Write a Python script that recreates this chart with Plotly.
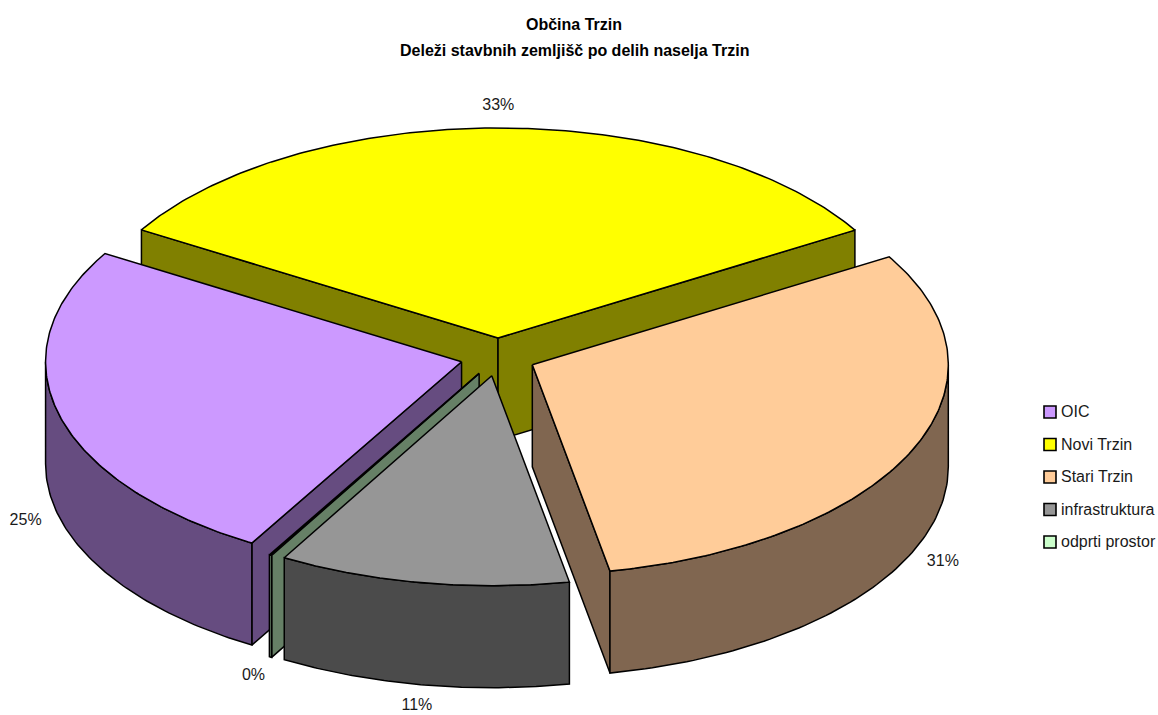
import numpy as np
import plotly.graph_objects as go

# --- data
categories = ["OIC", "Novi Trzin", "Stari Trzin", "infrastruktura", "odprti prostor"]
shares = [25.2, 32.8, 30.6, 11.3, 0.1]
top_colors = ["#CC99FF", "#FFFF00", "#FFCC99", "#969696", "#CCFFCC"]
side_colors = ["#664C80", "#808000", "#806650", "#4B4B4B", "#668066"]
title_lines = ["Občina Trzin", "Deleži stavbnih zemljišč po delih naselja Trzin"]

# --- projection of the tilted pie onto the page (pixels)
CX, CY = 498.0, 357.0
RX, RY = 416.0, 210.0
DEPTH = 102.0
EXPLODE = 37.6
FIRST_ANGLE = -149.72
DRAW_ORDER = [1, 2, 0, 4, 3]
TEXT = dict(family="Liberation Sans, Arial, sans-serif", size=16, color="#1a1a1a")
TITLE = dict(family="Liberation Sans, Arial, sans-serif", size=16, color="#000000")


def project(theta):
    t = np.radians(theta)
    return RX * np.sin(t), -RY * np.cos(t)


total = sum(shares)
spans = []
start = FIRST_ANGLE
for v in shares:
    spans.append((start, start + v / total * 360.0))
    start = spans[-1][1]


def polygon(fig, xs, ys, color):
    fig.add_trace(go.Scatter(
        x=list(xs) + [xs[0]], y=list(ys) + [ys[0]], mode="lines", fill="toself",
        fillcolor=color, line=dict(color="#000000", width=1.5),
        showlegend=False, hoverinfo="skip"))


fig = go.Figure()
for i in DRAW_ORDER:
    a, b = spans[i]
    mid = (a + b) / 2
    ax = CX + EXPLODE * np.sin(np.radians(mid))
    ay = CY - EXPLODE * RY / RX * np.cos(np.radians(mid))
    # radial faces: only those turned towards the viewer
    for edge, visible in ((a, np.sin(np.radians(a)) < 0), (b, np.sin(np.radians(b)) > 0)):
        if visible:
            ex, ey = project(edge)
            polygon(fig, [ax, ax + ex, ax + ex, ax],
                    [ay, ay + ey, ay + ey + DEPTH, ay + DEPTH], side_colors[i])
    # outer wall: only the part of the rim turned towards the viewer
    for s in [a + 360 * k for k in (-1, 0, 1)]:
        lo, hi = max(s, 90.0), min(s + (b - a), 270.0)
        if hi > lo:
            th = np.linspace(lo, hi, 80)
            px, py = project(th)
            polygon(fig,
                    np.r_[ax + px, (ax + px)[::-1]],
                    np.r_[ay + py, (ay + py + DEPTH)[::-1]],
                    side_colors[i])
    # top face
    th = np.linspace(a, b, 160)
    px, py = project(th)
    polygon(fig, np.r_[ax, ax + px], np.r_[ay, ay + py], top_colors[i])

# percentage labels, placed from each slice's bisector
lx, ly, lt = [], [], []
for i, (a, b) in enumerate(spans):
    mid = (a + b) / 2
    c = np.cos(np.radians(mid))
    s = np.sin(np.radians(mid))
    lx.append(CX + (EXPLODE + RX + 34) * s)
    ly.append(CY - (EXPLODE * RY / RX + RY + 22) * c + (DEPTH if c < 0 else 0))
    lt.append(f"{round(shares[i])}%")
fig.add_trace(go.Scatter(x=lx, y=ly, mode="text", text=lt, textposition="middle center",
                         textfont=TEXT, showlegend=False, hoverinfo="skip"))

# key on the right
for i, name in enumerate(categories):
    y = 412 + 32.5 * i
    fig.add_trace(go.Scatter(
        x=[1050], y=[y], mode="markers", name=name, showlegend=False, hoverinfo="name",
        marker=dict(symbol="square", size=12, color=top_colors[i],
                    line=dict(color="#000000", width=1.6))))
    fig.add_trace(go.Scatter(
        x=[1061], y=[y + 1], mode="text", text=[name], textposition="middle right",
        textfont=TEXT, showlegend=False, hoverinfo="skip"))

fig.update_layout(
    width=1158, height=715, margin=dict(l=0, r=0, t=0, b=0),
    paper_bgcolor="#FFFFFF", plot_bgcolor="#FFFFFF", showlegend=False,
    title=dict(text=f"<b>{title_lines[0]}</b>", x=574 / 1158, xanchor="center",
               y=1 - 24 / 715, yanchor="middle", font=TITLE),
    annotations=[dict(text=f"<b>{title_lines[1]}</b>", x=574, y=50, xref="x", yref="y",
                      xanchor="center", yanchor="middle", showarrow=False, font=TITLE)],
    xaxis=dict(range=[0, 1158], visible=False, fixedrange=True),
    yaxis=dict(range=[715, 0], visible=False, fixedrange=True),
)
fig.write_html("out.html", config={"displayModeBar": False},
               post_script="document.body.style.margin='0';document.body.style.overflow='hidden';")
